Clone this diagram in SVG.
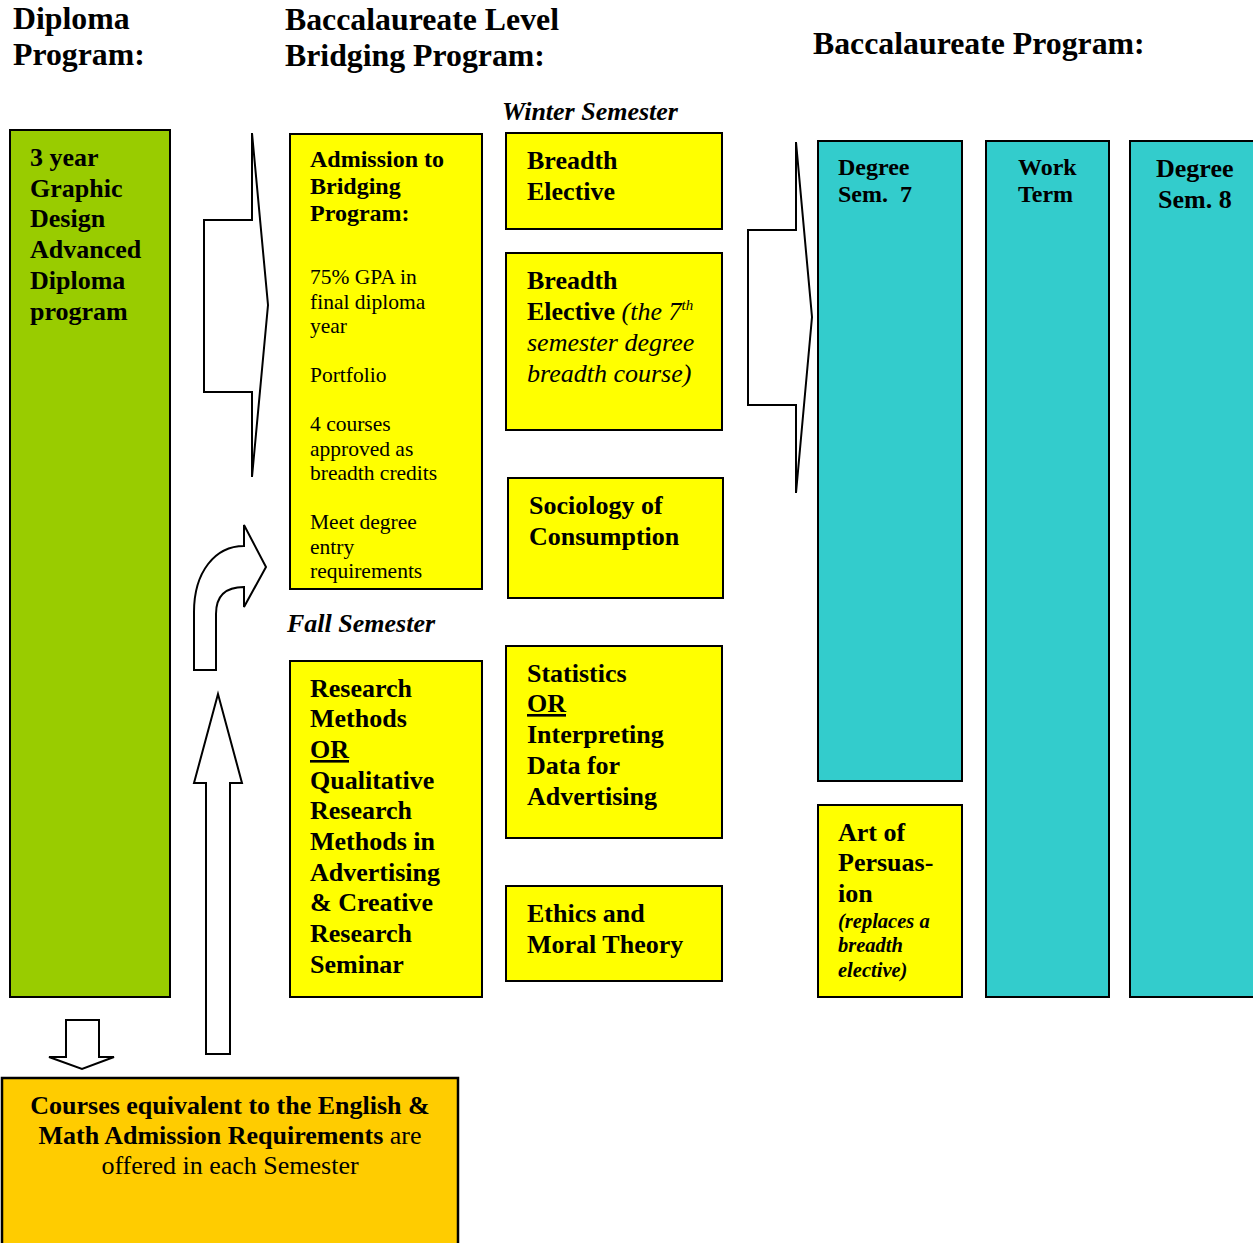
<svg xmlns="http://www.w3.org/2000/svg" width="1253" height="1243" viewBox="0 0 1253 1243">
<style>
text{font-family:"Liberation Serif","Times New Roman",serif;fill:#000}
.h{font-size:31.8px;font-weight:bold}
.sem{font-size:26px;font-weight:bold;font-style:italic}
.b{font-size:26px;font-weight:bold}
.bs{font-size:24px;font-weight:bold}
.r{font-size:21.5px}
.it{font-style:italic;font-weight:normal}
.n{font-weight:normal}
.bi{font-size:20.5px;font-weight:bold;font-style:italic}
.y{fill:#FFFF00;stroke:#000;stroke-width:2}
.g{fill:#99CC00;stroke:#000;stroke-width:2}
.c{fill:#33CCCC;stroke:#000;stroke-width:2}
.o{fill:#FFCC00;stroke:#000;stroke-width:2.5}
.ar{fill:#fff;stroke:#000;stroke-width:2;stroke-linejoin:miter}
</style>
<rect width="1253" height="1243" fill="#fff"/>
<g id="headers">
<text class="h" x="13" y="29">Diploma</text>
<text class="h" x="13" y="65">Program:</text>
<text class="h" x="285" y="30">Baccalaureate Level</text>
<text class="h" x="285" y="66">Bridging Program:</text>
<text class="h" x="813" y="54">Baccalaureate Program:</text>
<text class="sem" x="502" y="120">Winter Semester</text>
<text class="sem" x="287" y="632">Fall Semester</text>
</g>
<g id="connectors">
<polygon class="ar" points="252,133 252,220 204,220 204,392 252,392 252,477 268,305"/>
<path class="ar" d="M194,670 L194,612 C194,572 215,546 244,546 L244,525 L266,567 L244,607 L244,587 C228,587 216,594 216,614 L216,670 Z"/>
<polygon class="ar" points="218,694 194,783 206,783 206,1054 230,1054 230,783 242,783"/>
<polygon class="ar" points="66,1020 66,1057 49,1057 82,1069 114,1057 99,1057 99,1020"/>
<polygon class="ar" points="796,142 796,230 748,230 748,405 796,405 796,493 812,317"/>
</g>
<g id="diploma">
<rect class="g" x="10" y="130" width="160" height="867"/>
<text class="b" x="30" y="166">3 year</text>
<text class="b" x="30" y="197">Graphic</text>
<text class="b" x="30" y="227">Design</text>
<text class="b" x="30" y="258">Advanced</text>
<text class="b" x="30" y="289">Diploma</text>
<text class="b" x="30" y="320">program</text>
</g>
<g id="admission">
<rect class="y" x="290" y="134" width="192" height="455"/>
<text class="bs" x="310" y="167">Admission to</text>
<text class="bs" x="310" y="194">Bridging</text>
<text class="bs" x="310" y="221">Program:</text>
<text class="r" x="310" y="284">75% GPA in</text>
<text class="r" x="310" y="309">final diploma</text>
<text class="r" x="310" y="333">year</text>
<text class="r" x="310" y="382">Portfolio</text>
<text class="r" x="310" y="431">4 courses</text>
<text class="r" x="310" y="456">approved as</text>
<text class="r" x="310" y="480">breadth credits</text>
<text class="r" x="310" y="529">Meet degree</text>
<text class="r" x="310" y="554">entry</text>
<text class="r" x="310" y="578">requirements</text>
</g>
<g id="breadth1">
<rect class="y" x="506" y="133" width="216" height="96"/>
<text class="b" x="527" y="169">Breadth</text>
<text class="b" x="527" y="200">Elective</text>
</g>
<g id="breadth2">
<rect class="y" x="506" y="253" width="216" height="177"/>
<text class="b" x="527" y="289">Breadth</text>
<text class="b" x="527" y="320">Elective <tspan class="it"> (the 7</tspan><tspan class="it" font-size="15" dy="-10">th</tspan></text>
<text class="b it" x="527" y="351">semester degree</text>
<text class="b it" x="527" y="382">breadth course)</text>
</g>
<g id="sociology">
<rect class="y" x="508" y="478" width="215" height="120"/>
<text class="b" x="529" y="514">Sociology of</text>
<text class="b" x="529" y="545">Consumption</text>
</g>
<g id="research">
<rect class="y" x="290" y="661" width="192" height="336"/>
<text class="b" x="310" y="697">Research</text>
<text class="b" x="310" y="727">Methods</text>
<text class="b" x="310" y="758" text-decoration="underline">OR</text>
<text class="b" x="310" y="789">Qualitative</text>
<text class="b" x="310" y="819">Research</text>
<text class="b" x="310" y="850">Methods in</text>
<text class="b" x="310" y="881">Advertising</text>
<text class="b" x="310" y="911">&amp; Creative</text>
<text class="b" x="310" y="942">Research</text>
<text class="b" x="310" y="973">Seminar</text>
</g>
<g id="statistics">
<rect class="y" x="506" y="646" width="216" height="192"/>
<text class="b" x="527" y="682">Statistics</text>
<text class="b" x="527" y="712" text-decoration="underline">OR</text>
<text class="b" x="527" y="743">Interpreting</text>
<text class="b" x="527" y="774">Data for</text>
<text class="b" x="527" y="805">Advertising</text>
</g>
<g id="ethics">
<rect class="y" x="506" y="886" width="216" height="95"/>
<text class="b" x="527" y="922">Ethics and</text>
<text class="b" x="527" y="953">Moral Theory</text>
</g>
<g id="sem7">
<rect class="c" x="818" y="141" width="144" height="640"/>
<text class="bs" x="838" y="175">Degree</text>
<text class="bs" x="838" y="202">Sem.&#160; 7</text>
</g>
<g id="workterm">
<rect class="c" x="986" y="141" width="123" height="856"/>
<text class="bs" x="1018" y="175">Work</text>
<text class="bs" x="1018" y="202">Term</text>
</g>
<g id="sem8">
<rect class="c" x="1130" y="141" width="130" height="856"/>
<text class="b" x="1156" y="177">Degree</text>
<text class="b" x="1158" y="208">Sem. 8</text>
</g>
<g id="persuasion">
<rect class="y" x="818" y="805" width="144" height="192"/>
<text class="b" x="838" y="841">Art of</text>
<text class="b" x="838" y="871">Persuas-</text>
<text class="b" x="838" y="902">ion</text>
<text class="bi" x="838" y="928">(replaces a</text>
<text class="bi" x="838" y="952">breadth</text>
<text class="bi" x="838" y="977">elective)</text>
</g>
<g id="english">
<rect class="o" x="2" y="1078" width="456" height="180"/>
<text class="b" x="230" y="1114" text-anchor="middle" font-size="26.5">Courses equivalent to the English &amp;</text>
<text class="b" x="230" y="1144" text-anchor="middle">Math Admission Requirements <tspan class="n">are</tspan></text>
<text class="b n" x="230" y="1174" text-anchor="middle">offered in each Semester</text>
</g>
</svg>
